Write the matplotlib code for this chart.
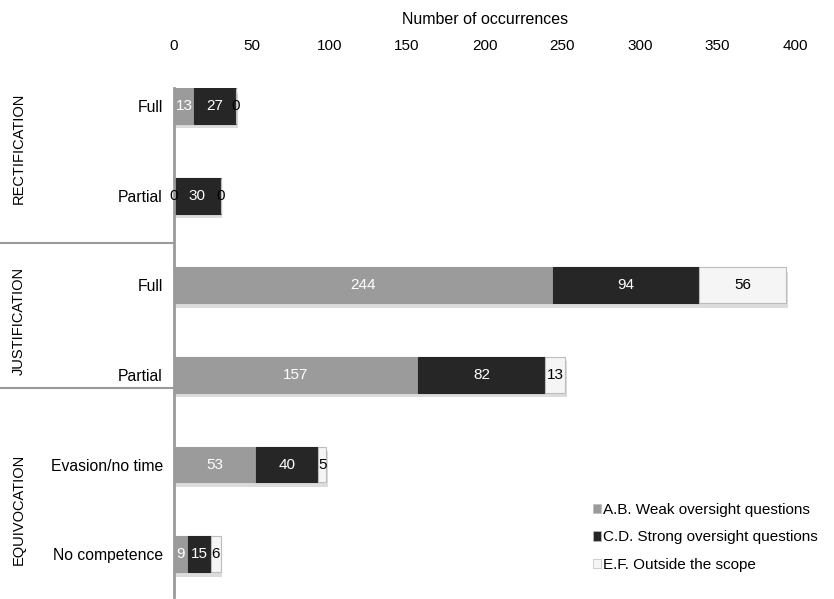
import numpy as np
import matplotlib
matplotlib.use('Agg')
import matplotlib.pyplot as plt
from matplotlib.patches import Patch
from matplotlib.transforms import blended_transform_factory

plt.rcParams['font.family'] = ['Liberation Sans', 'DejaVu Sans']

# Data
categories = ['Full', 'Partial', 'Full', 'Partial', 'Evasion/no time', 'No competence']
groups = ['RECTIFICATION', 'JUSTIFICATION', 'EQUIVOCATION']
weak = [13, 0, 244, 157, 53, 9]
strong = [27, 30, 94, 82, 40, 15]
outside = [0, 0, 56, 13, 5, 6]
series_names = ['A.B. Weak oversight questions', 'C.D. Strong oversight questions',
                'E.F. Outside the scope']
xticks = [0, 50, 100, 150, 200, 250, 300, 350, 400]

colors = ['#9b9b9b', '#262626', '#f5f5f5']
text_colors = ['white', 'white', 'black']

fig = plt.figure(figsize=(8.34, 5.99), dpi=100)
ax = fig.add_axes([0.2086, 0.003, 0.745, 0.850])

y = np.arange(len(categories))
h = 0.40
left = np.zeros(len(categories))
for vals, col, tcol in zip([weak, strong, outside], colors, text_colors):
    vals = np.array(vals)
    # soft shadow under the bars
    ax.barh(y + 0.05, vals, left=left + 1.2, height=h, color='#dcdcdc', zorder=1,
            edgecolor='none')
    ax.barh(y, vals, left=left, height=h, color=col, zorder=2,
            edgecolor='#bdbdbd' if col == '#f5f5f5' else col, linewidth=0.8)
    for yi, v, l in zip(y, vals, left):
        ax.text(l + v / 2, yi, str(v), ha='center', va='center',
                color=tcol if v > 0 else 'black', fontsize=11, zorder=3)
    left = left + vals

ax.set_xlim(0, 400)
ax.set_ylim(5.48, -0.2)
ax.xaxis.tick_top()
ax.xaxis.set_label_position('top')
ax.set_xticks(xticks)
ax.set_xticklabels([str(t) for t in xticks], fontsize=11)
ax.tick_params(axis='x', length=0, pad=25)
ax.set_xlabel('Number of occurrences', fontsize=11.5, labelpad=11)

ax.set_yticks(y)
ax.set_yticklabels(categories, fontsize=11.3)
ax.tick_params(axis='y', length=0, pad=8)

for s in ['top', 'right', 'bottom']:
    ax.spines[s].set_visible(False)
ax.spines['left'].set_color('#9a9a9a')
ax.spines['left'].set_linewidth(2)

# group separators and labels
trans = blended_transform_factory(ax.transAxes, ax.transData)
for ys in [1.53, 3.15]:
    ax.plot([-0.285, 0], [ys, ys], color='#9a9a9a', lw=1.5, transform=trans,
            clip_on=False)
group_centers = [0.47, 2.4, 4.5]
for g, yc in zip(groups, group_centers):
    ax.text(-0.25, yc, g, rotation=90, ha='center', va='center', fontsize=10.5,
            transform=trans)

handles = [Patch(facecolor=c, edgecolor='#bdbdbd', linewidth=0.5) for c in colors]
fig.legend(handles, series_names, loc='center left', bbox_to_anchor=(0.694, 0.103),
           frameon=False, fontsize=11, handlelength=0.55, handleheight=0.55,
           handletextpad=0.15, labelspacing=0.9)

fig.savefig('out.png', dpi=100)
